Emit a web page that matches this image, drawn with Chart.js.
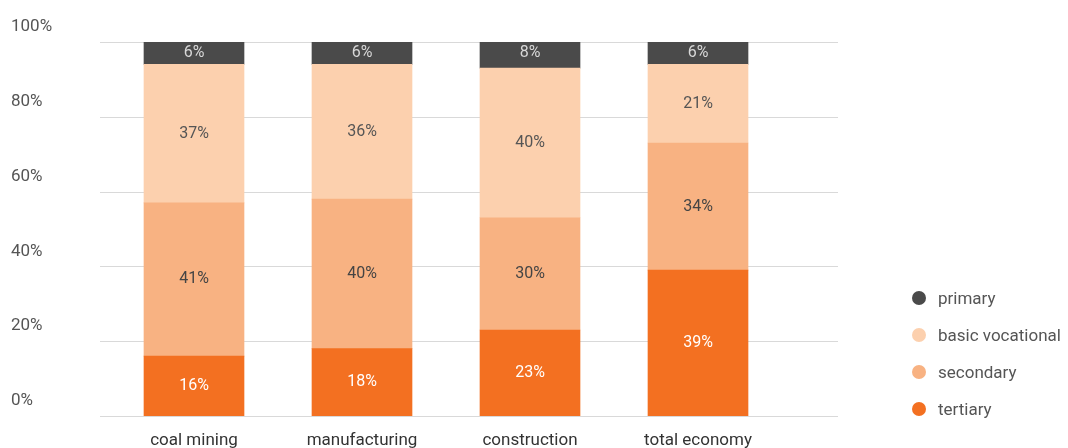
<!DOCTYPE html>
<html lang="en">
<head>
<meta charset="utf-8" />
<title>Education structure</title>
<script src="https://cdn.jsdelivr.net/npm/chart.js"></script>
<style>
  body { margin: 0; background: #fff; font-family: Roboto, sans-serif; }
  #wrap { position: relative; width: 1068px; height: 448px; }
  #legend { position: absolute; left: 912px; top: 279px; list-style: none; margin: 0; padding: 0; }
  #legend li { height: 37px; font-size: 17px; color: #555; display: flex; align-items: center; }
  #legend span { display: inline-block; width: 14px; height: 14px; border-radius: 50%; margin-right: 12px; }
</style>
</head>
<body>
<div id="wrap">
  <canvas id="chart" width="1068" height="448"></canvas>
  <ul id="legend"></ul>
</div>
<script>
  // data
  const categories = ["coal mining", "manufacturing", "construction", "total economy"];
  const tertiary = [16, 18, 23, 39];
  const secondary = [41, 40, 30, 34];
  const basicVocational = [37, 36, 40, 21];
  const primary = [6, 6, 8, 6];
  const yTicks = [0, 20, 40, 60, 80, 100];

  const series = [
    { label: "tertiary", data: tertiary, color: "#f37021", text: "#ffffff" },
    { label: "secondary", data: secondary, color: "#f8b282", text: "#444444" },
    { label: "basic vocational", data: basicVocational, color: "#fcd0ae", text: "#555555" },
    { label: "primary", data: primary, color: "#4a4a4a", text: "#d8d8d8" },
  ];

  // legend (top to bottom = reverse stack order)
  const legend = document.getElementById("legend");
  series.slice().reverse().forEach(s => {
    const li = document.createElement("li");
    li.innerHTML = '<span style="background:' + s.color + '"></span>' + s.label;
    legend.appendChild(li);
  });

  // horizontal grid lines, extended past the plot area like the original
  const gridPlugin = {
    id: "grid",
    beforeDatasetsDraw(chart) {
      const ctx = chart.ctx, y = chart.scales.y;
      ctx.save();
      ctx.strokeStyle = "#d9d9d9";
      ctx.lineWidth = 1;
      yTicks.forEach(v => {
        const py = Math.round(y.getPixelForValue(v)) + 0.5;
        ctx.beginPath();
        ctx.moveTo(100, py);
        ctx.lineTo(838, py);
        ctx.stroke();
      });
      ctx.restore();
    }
  };

  // value labels inside the bars
  const valuePlugin = {
    id: "values",
    afterDatasetsDraw(chart) {
      const ctx = chart.ctx;
      ctx.save();
      ctx.font = "16px Roboto";
      ctx.textAlign = "center";
      ctx.textBaseline = "middle";
      chart.data.datasets.forEach((ds, i) => {
        chart.getDatasetMeta(i).data.forEach((bar, j) => {
          ctx.fillStyle = series[i].text;
          ctx.fillText(ds.data[j] + "%", bar.x, (bar.y + bar.base) / 2);
        });
      });
      ctx.restore();
    }
  };

  new Chart(document.getElementById("chart"), {
    type: "bar",
    data: {
      labels: categories,
      datasets: series.map(s => ({
        label: s.label,
        data: s.data,
        backgroundColor: s.color,
        barThickness: 100
      }))
    },
    options: {
      responsive: false,
      animation: false,
      layout: { padding: { left: 11, right: 286, top: 42, bottom: 0 } },
      plugins: { legend: { display: false }, tooltip: { enabled: false } },
      scales: {
        x: {
          stacked: true,
          afterFit(scale) { scale.height = 32; },
          grid: { display: false },
          border: { display: false },
          ticks: { color: "#333", font: { size: 17, family: "Roboto", lineHeight: 1 }, padding: 8 }
        },
        y: {
          stacked: true,
          min: 0,
          max: 100,
          afterFit(scale) { scale.width = 99; },
          afterBuildTicks(scale) { scale.ticks = yTicks.map(v => ({ value: v })); },
          grid: { display: false },
          border: { display: false },
          ticks: {
            crossAlign: "far",
            padding: 0,
            labelOffset: -15,
            color: "#555",
            font: { size: 17, family: "Roboto" },
            callback: v => v + "%"
          }
        }
      }
    },
    plugins: [gridPlugin, valuePlugin]
  });
</script>
</body>
</html>
